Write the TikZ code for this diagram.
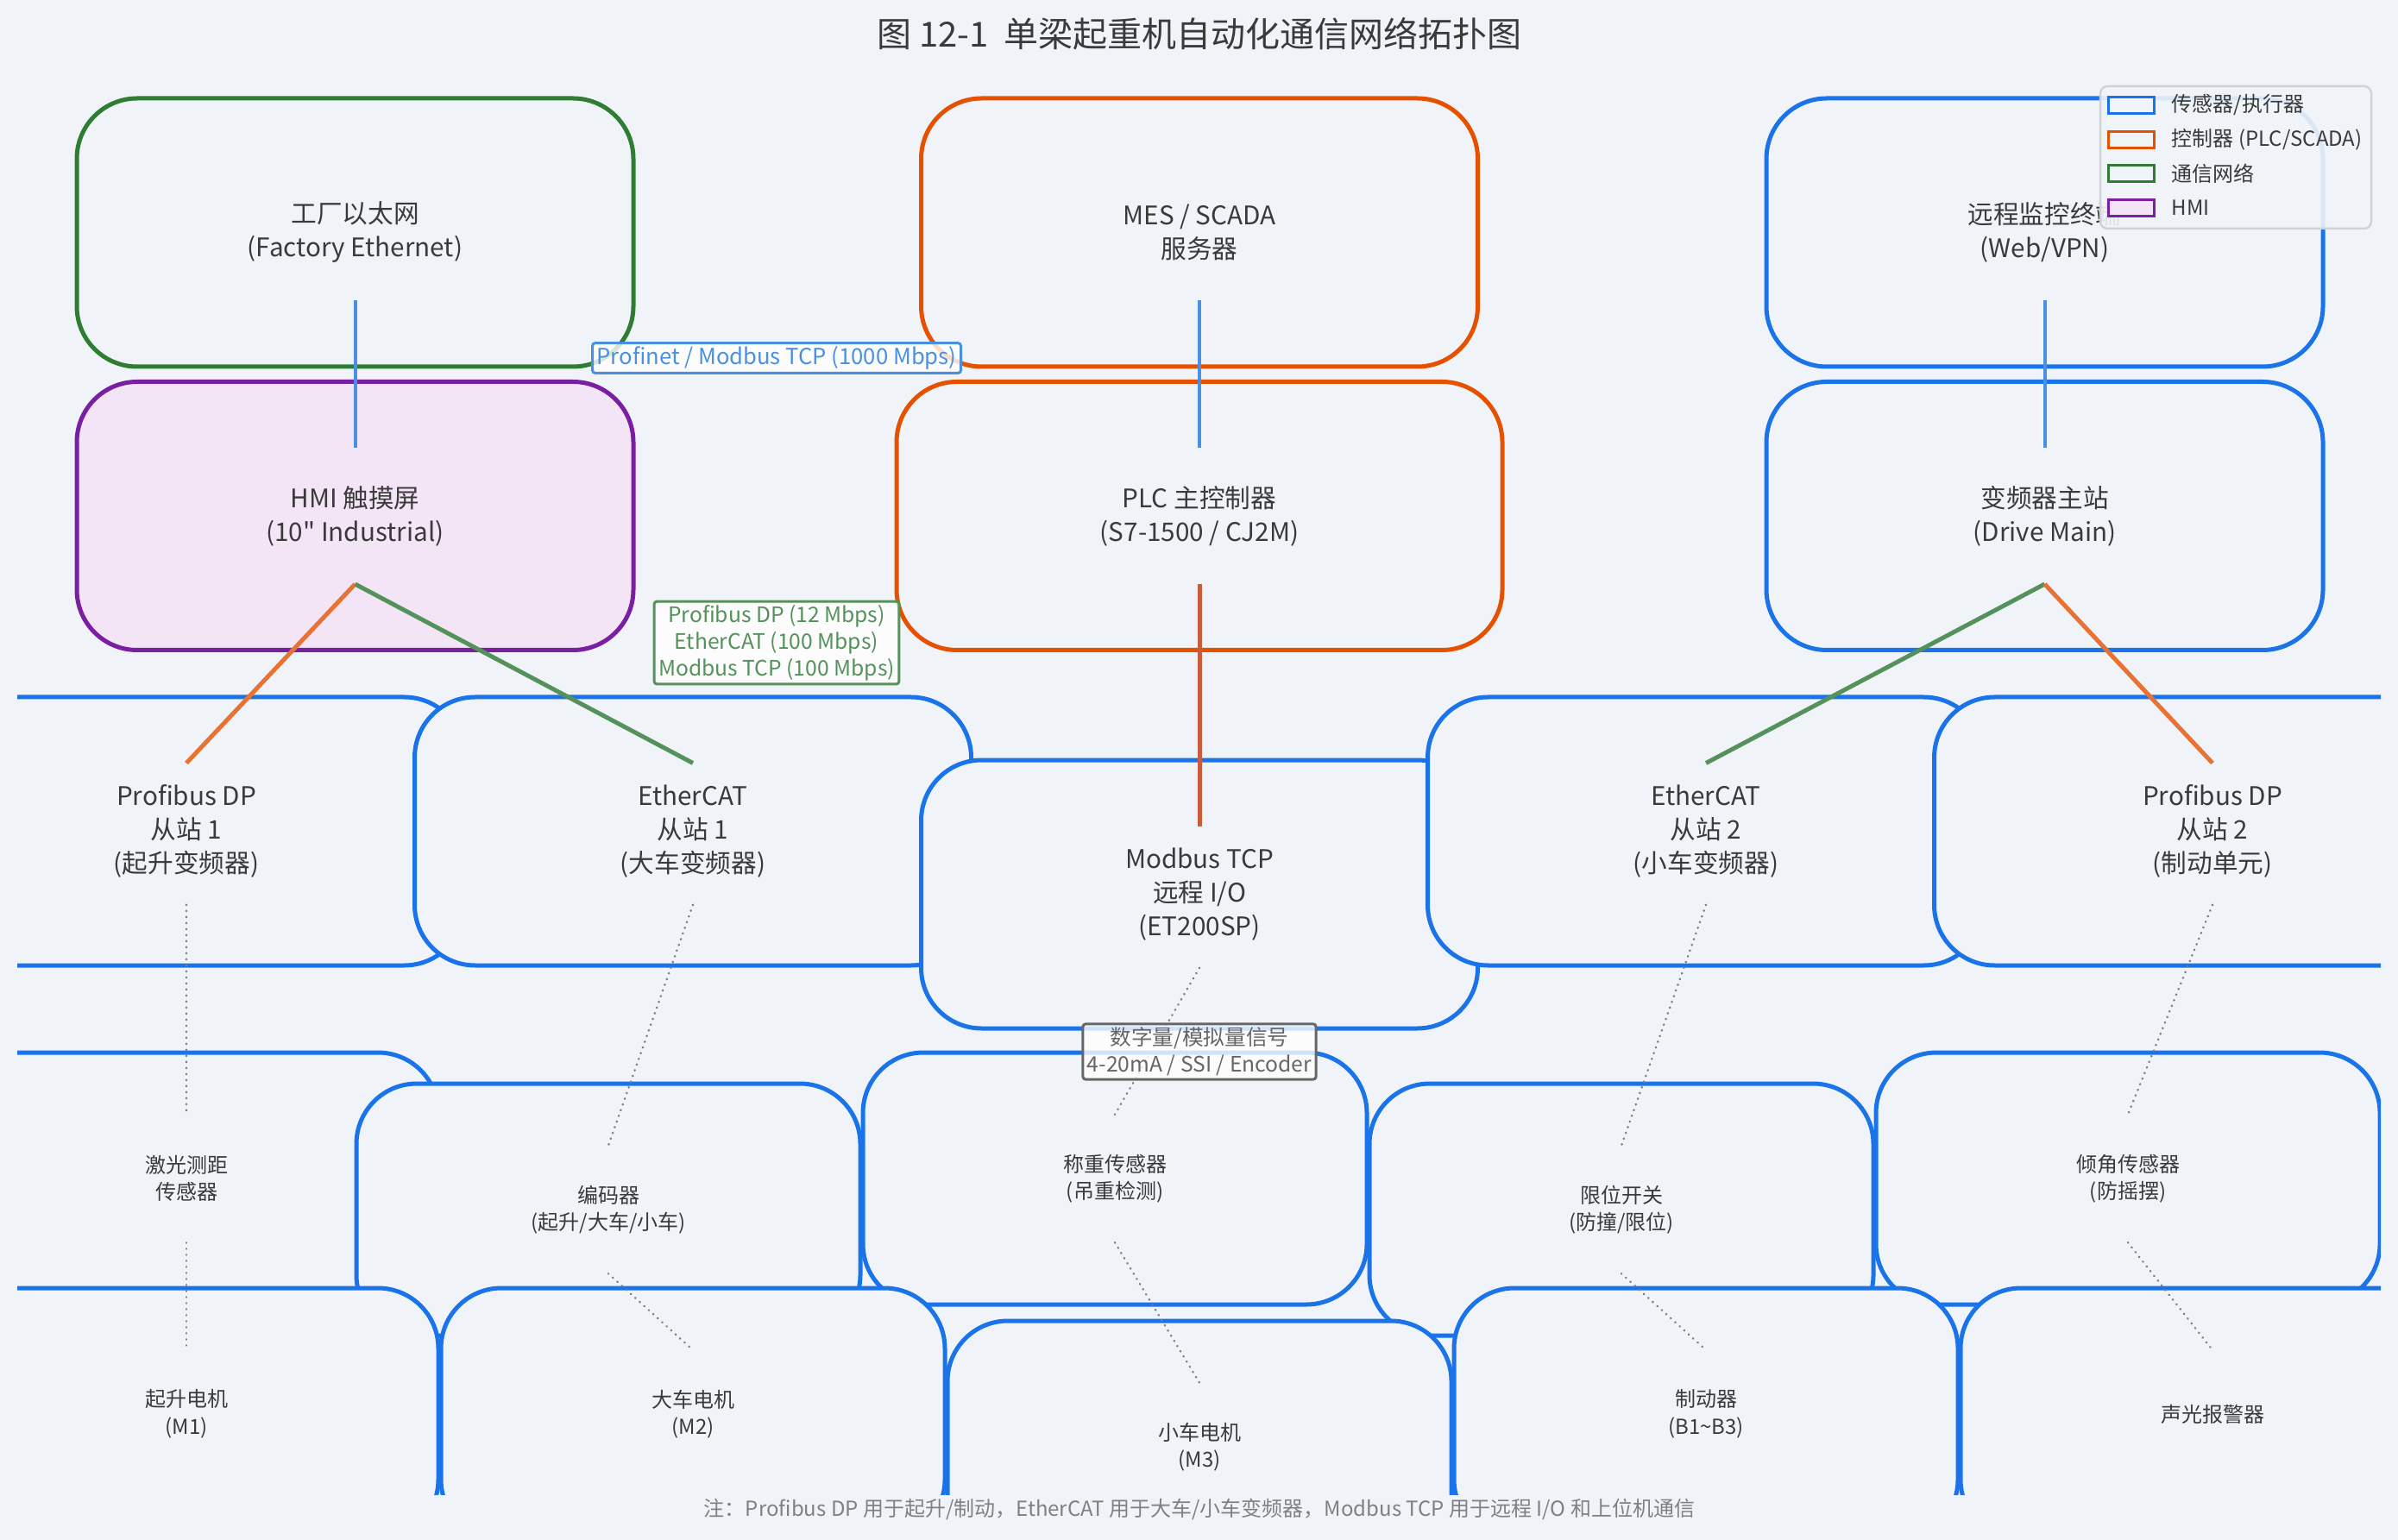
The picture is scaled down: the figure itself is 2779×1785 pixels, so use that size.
\documentclass[tikz,border=0pt]{standalone}
\usepackage{fontspec}
\setmainfont{Noto Sans CJK SC}
\newfontfamily\rawfont{Noto Sans CJK SC}
\usetikzlibrary{calc}
\definecolor{bg}{HTML}{F0F4F9}
\definecolor{bblue}{HTML}{1A73E8}
\definecolor{bgreen}{HTML}{2E7D32}
\definecolor{borange}{HTML}{E65100}
\definecolor{bpurple}{HTML}{7B1FA2}
\definecolor{ppink}{HTML}{F3E5F5}
\definecolor{lblue}{HTML}{4A90E2}
\definecolor{lgreen}{RGB}{85,145,90}
\definecolor{lorange}{RGB}{232,114,52}
\definecolor{lred}{RGB}{201,92,59}
\definecolor{dotgray}{HTML}{7E7E86}
\definecolor{txt}{HTML}{3A3A3A}
\definecolor{siggray}{HTML}{666666}
\definecolor{notegray}{HTML}{808080}
\definecolor{legline}{HTML}{D0D3D6}
\begin{document}
\begin{tikzpicture}[x=0.3pt,y=-0.3pt,
  bigbox/.style={draw, line width=1.5pt, rounded corners=21pt, fill=bg,
    minimum width=193.5pt, minimum height=93.3pt, align=center, text=txt,
    inner sep=0pt, font=\fontsize{8.9}{11.7}\selectfont},
  smallbox/.style={draw=bblue, line width=1.5pt, rounded corners=21pt, fill=bg,
    minimum width=175.2pt, minimum height=87.6pt, align=center, text=txt,
    inner sep=0pt, font=\fontsize{7.2}{9.45}\selectfont},
  lab/.style={line width=0.9pt, rounded corners=1pt, fill=white, fill opacity=0.8,
    text opacity=1, draw opacity=1, inner xsep=1.5pt, inner ysep=1.2pt, align=center,
    font=\fontsize{7.4}{9.3}\selectfont},
  conn/.style={line width=1.5pt},
  dotconn/.style={dotgray, line width=0.8pt, dash pattern=on 0.1pt off 2pt, line cap=round},
  legpatch/.style={line width=0.9pt},
  legtext/.style={anchor=west, text=txt, inner sep=0pt, font=\fontsize{7.2}{9}\selectfont}]
\fill[bg] (0,0) rectangle (2779,1785);
\useasboundingbox (0,0) rectangle (2779,1785);
\begin{scope}
\clip (20,0) rectangle (2759,1732);
% row 1
\node[bigbox, draw=bgreen] (fe) at (411.5,269.5) {工厂以太网\\(Factory Ethernet)};
\node[bigbox, draw=borange] (mes) at (1390,269.5) {MES / SCADA\\服务器};
\node[bigbox, draw=bblue] (rm) at (2369.5,269.5) {远程监控终端\\(Web/VPN)};
% row 2
\node[bigbox, draw=bpurple, fill=ppink] (hmi) at (411.5,598) {HMI 触摸屏\\(10{\rawfont"} Industrial)};
\node[bigbox, draw=borange, minimum width=210.6pt] (plc) at (1390,598) {PLC 主控制器\\(S7-1500 / CJ2M)};
\node[bigbox, draw=bblue] (drv) at (2369.5,598) {变频器主站\\(Drive Main)};
% row 3
\node[bigbox, draw=bblue] (pb1) at (216,963.5) {Profibus DP\\从站 1\\(起升变频器)};
\node[bigbox, draw=bblue] (ec1) at (803,963.5) {EtherCAT\\从站 1\\(大车变频器)};
\node[bigbox, draw=bblue] (mb) at (1390,1036.5) {Modbus TCP\\远程 I/O\\(ET200SP)};
\node[bigbox, draw=bblue] (ec2) at (1977,963.5) {EtherCAT\\从站 2\\(小车变频器)};
\node[bigbox, draw=bblue] (pb2) at (2564,963.5) {Profibus DP\\从站 2\\(制动单元)};
% row 4
\node[smallbox] (ls) at (216,1366) {激光测距\\传感器};
\node[smallbox] (enc) at (705,1402) {编码器\\(起升/大车/小车)};
\node[smallbox] (wt) at (1292,1366) {称重传感器\\(吊重检测)};
\node[smallbox] (lim) at (1879,1402) {限位开关\\(防撞/限位)};
\node[smallbox] (tilt) at (2466,1366) {倾角传感器\\(防摇摆)};
% row 5
\node[smallbox] (m1) at (216,1639) {起升电机\\(M1)};
\node[smallbox] (m2) at (803,1639) {大车电机\\(M2)};
\node[smallbox] (m3) at (1390,1677) {小车电机\\(M3)};
\node[smallbox] (brk) at (1977,1639) {制动器\\(B1\textasciitilde B3)};
\node[smallbox] (alm) at (2564,1639) {声光报警器};
\end{scope}
% connectors
\draw[lblue, line width=1.2pt] ($(fe.center)!0.5!(fe.south)$) -- ($(hmi.center)!0.5!(hmi.north)$);
\draw[lblue, line width=1.2pt] ($(mes.center)!0.5!(mes.south)$) -- ($(plc.center)!0.5!(plc.north)$);
\draw[lblue, line width=1.2pt] ($(rm.center)!0.5!(rm.south)$) -- ($(drv.center)!0.5!(drv.north)$);
\draw[conn, lorange] ($(hmi.center)!0.5!(hmi.south)$) -- ($(pb1.center)!0.5!(pb1.north)$);
\draw[conn, lgreen] ($(hmi.center)!0.5!(hmi.south)$) -- ($(ec1.center)!0.5!(ec1.north)$);
\draw[conn, lred] ($(plc.center)!0.5!(plc.south)$) -- ($(mb.center)!0.5!(mb.north)$);
\draw[conn, lgreen] ($(drv.center)!0.5!(drv.south)$) -- ($(ec2.center)!0.5!(ec2.north)$);
\draw[conn, lorange] ($(drv.center)!0.5!(drv.south)$) -- ($(pb2.center)!0.5!(pb2.north)$);
\draw[dotconn] ($(pb1.center)!0.54!(pb1.south)$) -- ($(ls.center)!0.5!(ls.north)$);
\draw[dotconn] ($(ec1.center)!0.54!(ec1.south)$) -- ($(enc.center)!0.5!(enc.north)$);
\draw[dotconn] ($(mb.center)!0.54!(mb.south)$) -- ($(wt.center)!0.5!(wt.north)$);
\draw[dotconn] ($(ec2.center)!0.54!(ec2.south)$) -- ($(lim.center)!0.5!(lim.north)$);
\draw[dotconn] ($(pb2.center)!0.54!(pb2.south)$) -- ($(tilt.center)!0.5!(tilt.north)$);
\draw[dotconn] ($(ls.center)!0.5!(ls.south)$) -- ($(m1.center)!0.5!(m1.north)$);
\draw[dotconn] ($(enc.center)!0.5!(enc.south)$) -- ($(m2.center)!0.5!(m2.north)$);
\draw[dotconn] ($(wt.center)!0.5!(wt.south)$) -- ($(m3.center)!0.5!(m3.north)$);
\draw[dotconn] ($(lim.center)!0.5!(lim.south)$) -- ($(brk.center)!0.5!(brk.north)$);
\draw[dotconn] ($(tilt.center)!0.5!(tilt.south)$) -- ($(alm.center)!0.5!(alm.north)$);
% labels
\node[lab, draw=lblue, text=lblue, font=\fontsize{7.7}{9.3}\selectfont] (pn) at (900,415) {Profinet / Modbus TCP (1000 Mbps)};
\node[lab, draw=lgreen, text=lgreen] (proto) at (900,745) {Profibus DP (12 Mbps)\\EtherCAT (100 Mbps)\\Modbus TCP (100 Mbps)};
\node[lab, draw=siggray, text=siggray] (sig) at (1390,1219) {数字量/模拟量信号\\4-20mA / SSI / Encoder};
% legend
\node[draw=legline, line width=0.75pt, rounded corners=2.5pt, fill=bg, fill opacity=0.9,
  minimum width=94.2pt, minimum height=49.5pt, inner sep=0pt] (leg) at (2591,182.5) {};
\draw[legpatch, draw=bblue, fill=bg] (2443,113) rectangle (2496,132);
\draw[legpatch, draw=borange, fill=bg] (2443,153) rectangle (2496,172);
\draw[legpatch, draw=bgreen, fill=bg] (2443,192) rectangle (2496,211);
\draw[legpatch, draw=bpurple, fill=ppink] (2443,232) rectangle (2496,251);
\node[legtext] (lg1) at (2516,122) {传感器/执行器};
\node[legtext] (lg2) at (2516,162) {控制器 (PLC/SCADA)};
\node[legtext] (lg3) at (2516,201) {通信网络};
\node[legtext] (lg4) at (2516,241) {HMI};
% title and note
\node[text=txt, font=\fontsize{12}{14}\selectfont] (title) at (1390,39) {图 12-1\ \ 单梁起重机自动化通信网络拓扑图};
\node[text=notegray, font=\fontsize{7.2}{9}\selectfont] (note) at (1390,1749) {注：Profibus DP 用于起升/制动，EtherCAT 用于大车/小车变频器，Modbus TCP 用于远程 I/O 和上位机通信};
\end{tikzpicture}
\end{document}
